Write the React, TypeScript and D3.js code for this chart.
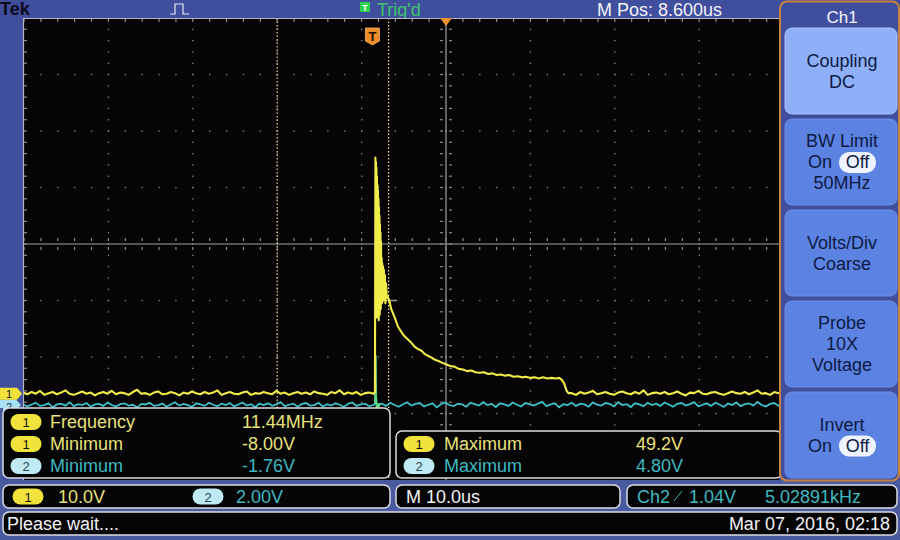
import * as d3 from "d3";

const W = 900;
const H = 540;

// time in us (0 = trigger), volts per channel
const sampleStep = 0.5;
const ch1PreStart = -41.5;
const ch1PreNoise = [
  0.2, -0.1, 0.3, 0, 0.5, -0.2, 0.1, 0.3, -0.1, 0.2, 0.6, 0,
  -0.2, 0.1, 0.4, 0, 0.2, -0.3, 0.1, 0.3, 0, 0.5, -0.1, 0.2,
  0.1, -0.2, 0.3, 0.7, 0, 0.1, -0.2, 0.2, 0.4, -0.1, 0, 0.3,
  0.1, -0.3, 0.2, 0, 0.4, 0.1, -0.1, 0.3, 0, 0.2, 0.6, -0.2,
  0.1, 0.3, 0, -0.1, 0.2, 0.4, -0.2, 0.1, 0, 0.3, 0.1, -0.1,
  0.5, 0, 0.2, -0.2, 0.1, 0.3, 0, 0.2, -0.1, 0.4, 0.1, 0,
  -0.2, 0.3, 0.1, 0.6, -0.1, 0.2, 0, 0.3, -0.2, 0.1, 0.2, 0,
];
const ch1Burst: [number, number][] = [
  [0.18, 0.3], [0.24, 41.8], [0.27, 24], [0.3, 41], [0.33, 18], [0.36, 40],
  [0.39, 13.5], [0.42, 38.5], [0.45, 20], [0.48, 37], [0.51, 14], [0.54, 36],
  [0.57, 22], [0.6, 34.5], [0.63, 13], [0.66, 33], [0.69, 19], [0.72, 31.5],
  [0.75, 14], [0.78, 30], [0.81, 21], [0.84, 28.5], [0.87, 15], [0.9, 27],
  [0.94, 19], [0.98, 24], [1.02, 16], [1.06, 23], [1.1, 18], [1.14, 22.5],
  [1.19, 16.5], [1.24, 22], [1.3, 17], [1.36, 21], [1.42, 16], [1.5, 19.5], [1.58, 17],
];
const ch1Decay: [number, number][] = [
  [1.7, 17.2], [1.9, 16.4], [2.1, 15.0], [2.3, 14.3], [2.6, 13.2], [2.9, 11.9],
  [3.2, 11.2], [3.5, 10.5], [3.8, 10.0], [4.1, 9.6], [4.5, 9.0], [4.9, 8.3],
  [5.3, 7.9], [5.7, 7.6], [6.1, 7.0], [6.5, 6.7], [6.9, 6.4], [7.3, 6.0],
  [7.7, 5.8], [8.1, 5.5], [8.6, 5.2], [9.1, 4.9], [9.6, 4.8], [10.1, 4.4],
  [10.6, 4.3], [11.1, 4.0], [11.6, 4.1], [12.1, 3.8], [12.6, 3.7], [13.1, 3.8],
  [13.6, 3.5], [14.1, 3.6], [14.6, 3.3], [15.1, 3.4], [15.6, 3.2], [16.1, 3.3],
  [16.6, 3.0], [17.1, 3.1], [17.6, 2.9], [18.1, 3.0], [18.6, 2.8], [19.1, 2.9],
  [19.6, 2.7], [20.1, 2.9], [20.6, 2.7], [21.1, 2.8], [21.6, 2.7], [22.0, 2.8],
  [22.3, 2.5], [22.6, 1.8], [22.9, 0.5], [23.1, 0.1],
];
const ch1PostStart = 23.5;
const ch1PostNoise = [
  0.1, -0.2, 0.3, 0, 0.2, 0.5, -0.1, 0.1, 0.3, 0, -0.2, 0.2,
  0.4, 0.1, -0.1, 0.3, 0, 0.6, -0.2, 0.1, 0.2, 0, 0.3, -0.1,
  0.1, 0.4, 0, -0.3, 0.2, 0.1, 0.5, 0, -0.1, 0.2, 0.3, 0,
  -0.2, 0.1, 0.4, 0.1, 0, 0.3, -0.1, 0.2, 0.6, 0, 0.1, -0.2,
  0.3, 0.1, 0, 0.2, -0.1, 0.4, 0.1, 0, 0.3, -0.2, 0.2, 0.5,
  0, 0.1, -0.1, 0.3, 0.2, 0, -0.2, 0.4, 0.1, 0.2, 0,
];

const ch2PreStart = -41.5;
const ch2PreNoise = [
  0.03, -0.05, 0.02, 0.08, -0.03, 0, 0.06, -0.08, 0.02, 0.05, -0.02, 0.1,
  -0.04, 0.03, 0, 0.07, -0.06, 0.02, 0.04, -0.03, 0.09, 0, -0.05, 0.03,
  0.06, -0.02, 0.01, -0.09, 0.04, 0.02, 0.08, -0.03, 0, 0.05, -0.06, 0.03,
  0.1, -0.02, 0.04, 0, -0.07, 0.06, 0.02, -0.03, 0.08, 0.01, -0.04, 0.05,
  0, 0.07, -0.05, 0.02, 0.09, -0.02, 0.03, -0.08, 0.05, 0, 0.06, -0.03,
  0.02, 0.1, -0.04, 0.01, 0.05, -0.06, 0.03, 0.07, -0.02, 0, 0.08, -0.05,
  0.03, -0.02, 0.06, 0.01, -0.07, 0.04, 0.09, -0.03, 0.02, 0.05, -0.04, 0,
];
const ch2Spike: [number, number][] = [
  [0.2, 0.05], [0.25, 1.77], [0.32, 0.3], [0.4, -0.12], [0.5, 0.06], [0.6, -0.08], [0.75, 0.04],
];
const ch2PostStart = 1.0;
const ch2PostNoise = [
  0.05, -0.03, 0.08, 0, -0.06, 0.03, 0.1, -0.02, 0.04, 0.07, -0.05, 0.01,
  0.06, -0.08, 0.03, 0.09, 0, -0.04, 0.05, 0.02, -0.06, 0.08, 0.03, -0.02,
  0.1, 0, 0.04, -0.07, 0.06, 0.02, -0.03, 0.09, 0.01, -0.05, 0.07, 0.03,
  -0.02, 0.05, 0.11, -0.04, 0.02, 0.06, -0.08, 0.03, 0, 0.08, -0.03, 0.05,
  0.02, -0.06, 0.09, 0.01, -0.02, 0.07, 0.04, -0.05, 0.1, 0, 0.03, -0.07,
  0.06, 0.02, -0.04, 0.08, 0, 0.05, -0.03, 0.09, 0.02, -0.06, 0.04, 0.07,
  -0.02, 0.03, 0.1, -0.05, 0.01, 0.06, -0.03, 0.08, 0.02, -0.07, 0.05, 0,
  0.09, -0.04, 0.03, 0.06, -0.02, 0.11, 0, -0.05, 0.04, 0.07, -0.03, 0.02,
  0.08, -0.06, 0.03, 0.05, -0.01, 0.09, 0.02, -0.04, 0.06, 0.01, -0.05, 0.08,
  0.03, -0.02, 0.07, 0, -0.06, 0.04, 0.09, -0.03,
];

const cursorTimes = [-11.4, 1.8];

const measLeft = [
  { ch: 1, label: "Frequency", value: "11.44MHz" },
  { ch: 1, label: "Minimum", value: "-8.00V" },
  { ch: 2, label: "Minimum", value: "-1.76V" },
];
const measRight = [
  { ch: 1, label: "Maximum", value: "49.2V" },
  { ch: 2, label: "Maximum", value: "4.80V" },
];

const menuTitle = "Ch1";
const menuButtons = [
  ["Coupling", "DC"],
  ["BW Limit", "On|Off", "50MHz"],
  ["Volts/Div", "Coarse"],
  ["Probe", "10X", "Voltage"],
  ["Invert", "On|Off"],
];

const FONT = "'Liberation Sans', Arial, sans-serif";
const BLUE = "#3f4f9e";
const YELLOW = "#f0ec48";
const CYAN = "#3cc2c8";
const TXT_Y = "#e8e27a";
const TXT_C = "#3fb8c0";
const GRID = "#8c8c8c";

function Pill({ cx, cy, ch }: { cx: number; cy: number; ch: number }) {
  const w = 31;
  const h = 16;
  return (
    <g>
      <rect x={cx - w / 2} y={cy - h / 2} width={w} height={h} rx={h / 2}
        fill={ch === 1 ? "#f2e23c" : "#bfeaf4"} />
      <text x={cx} y={cy + 5} textAnchor="middle" fontSize={13} fontFamily={FONT}
        fill={ch === 1 ? "#111" : "#24404c"}>{ch}</text>
    </g>
  );
}

function Box({ x0, y0, x1, y1 }: { x0: number; y0: number; x1: number; y1: number }) {
  return (
    <rect x={x0} y={y0} width={x1 - x0} height={y1 - y0} rx={6}
      fill="#050505" stroke="#dcdce4" strokeWidth={1.5} />
  );
}

export default function App() {
  const x = d3.scaleLinear().domain([-41.4, 58.6]).range([24, 868]);
  const y1 = d3.scaleLinear().domain([-13.5, 66.5]).range([470, 18]);
  const y2 = d3.scaleLinear().domain([-2.3, 13.7]).range([470, 18]);
  const gx = d3.scaleLinear().domain([0, 10]).range([24, 868]);
  const gy = d3.scaleLinear().domain([0, 8]).range([18, 470]);

  const ch1: [number, number][] = [
    ...ch1PreNoise.map((v, i) => [ch1PreStart + i * sampleStep, v] as [number, number]),
    ...ch1Burst,
    ...ch1Decay,
    ...ch1PostNoise.map((v, i) => [ch1PostStart + i * sampleStep, v] as [number, number]),
  ];
  const ch2: [number, number][] = [
    ...ch2PreNoise.map((v, i) => [ch2PreStart + i * sampleStep, v] as [number, number]),
    ...ch2Spike,
    ...ch2PostNoise.map((v, i) => [ch2PostStart + i * sampleStep, v] as [number, number]),
  ];
  const line1 = d3.line<[number, number]>().x((d) => x(d[0])).y((d) => y1(d[1]));
  const line2 = d3.line<[number, number]>().x((d) => x(d[0])).y((d) => y2(d[1]));

  const minorX = d3.range(0, 51).map((i) => gx(i / 5));
  const minorY = d3.range(0, 41).map((j) => gy(j / 5));
  const cx = gx(5);
  const cy = gy(4);

  return (
    <svg width={W} height={H} viewBox={`0 0 ${W} ${H}`}
      style={{ position: "fixed", left: 0, top: 0, display: "block" }}>
      <defs>
        <clipPath id="screen">
          <rect x={23} y={18} width={756} height={462} />
        </clipPath>
      </defs>
      <rect width={W} height={H} fill={BLUE} />

      {/* top status bar */}
      <text x={0} y={15} fontSize={18} fontWeight="bold" fontFamily={FONT} fill="#0b0b1a">Tek</text>
      <path d="M170,14 H175 V4 H183 V14 H189" fill="none" stroke="#e8e8f0" strokeWidth={1.2} />
      <rect x={360} y={2} width={10} height={10} fill="#2fd04e" />
      <text x={365} y={10.5} textAnchor="middle" fontSize={9} fontWeight="bold" fontFamily={FONT} fill="#fff">T</text>
      <text x={377} y={16} fontSize={18} fontFamily={FONT} fill="#3ec46c">Trig'd</text>
      <text x={597} y={16} fontSize={18} fontFamily={FONT} fill="#f2f2f6">M Pos: 8.600us</text>

      {/* screen */}
      <rect x={23} y={18} width={756} height={462} fill="#060404" />
      <g clipPath="url(#screen)">
        {[1, 2, 3, 4, 6, 7, 8, 9].map((i) =>
          minorY.map((py, j) => (
            <rect key={`v${i}-${j}`} x={gx(i) - 0.6} y={py - 0.6} width={1.3} height={1.3} fill={GRID} />
          )),
        )}
        {[1, 2, 3, 5, 6, 7].map((k) =>
          minorX.map((px, i) => (
            <rect key={`h${k}-${i}`} x={px - 0.6} y={gy(k) - 0.6} width={1.3} height={1.3} fill={GRID} />
          )),
        )}
        <line x1={cx} x2={cx} y1={18} y2={480} stroke="#a4a4a4" strokeWidth={1.2} />
        <line x1={23} x2={779} y1={cy} y2={cy} stroke="#a4a4a4" strokeWidth={1.2} />
        {minorY.map((py, j) => (
          <g key={`cy${j}`} stroke={GRID} strokeWidth={1.2}>
            <line x1={cx - 6} x2={cx - 3} y1={py} y2={py} />
            <line x1={cx + 3} x2={cx + 6} y1={py} y2={py} />
          </g>
        ))}
        {minorX.map((px, i) => (
          <g key={`cx${i}`} stroke={GRID} strokeWidth={1.2}>
            <line x1={px} x2={px} y1={cy - 6} y2={cy - 3} />
            <line x1={px} x2={px} y1={cy + 3} y2={cy + 6} />
            <line x1={px} x2={px} y1={18} y2={22} />
          </g>
        ))}
        {minorY.map((py, j) => (
          <line key={`l${j}`} x1={23} x2={27} y1={py} y2={py} stroke={GRID} strokeWidth={1.2} />
        ))}
        {cursorTimes.map((t) => (
          <line key={`cur${t}`} x1={x(t)} x2={x(t)} y1={18} y2={480}
            stroke="#e6dfa0" strokeWidth={1.2} strokeDasharray="1.5,2" />
        ))}
        <line x1={380} x2={397} y1={gy(5)} y2={gy(5)} stroke="#9a9a9a" strokeWidth={1.5} />

        <path d={line2(ch2) || ""} fill="none" stroke={CYAN} strokeWidth={1.8} />
        <path d={line2(ch2Spike) || ""} fill="none" stroke="#5fd47e" strokeWidth={1.8} />
        <path d={line1(ch1) || ""} fill="none" stroke={YELLOW} strokeWidth={2.1} strokeLinejoin="round" />
      </g>
      <line x1={23} x2={779} y1={18.5} y2={18.5} stroke="#b4b4c4" strokeWidth={1.2} />
      <line x1={23.5} x2={23.5} y1={18} y2={480} stroke="#b4b4c4" strokeWidth={1.2} />

      {/* trigger markers */}
      <path d={`M${cx - 6},18 H${cx + 6} L${cx},26 Z`} fill="#f0922c" />
      <g transform={`translate(${x(0) - 1},0)`}>
        <path d="M-7,28 H7 V41 L0,45 L-7,41 Z" fill="#ee8c2a" stroke="#ffb466" strokeWidth={0.8} />
        <text x={0} y={41} textAnchor="middle" fontSize={13} fontWeight="bold" fontFamily={FONT} fill="#1a0c00">T</text>
      </g>

      {/* channel ground markers */}
      <g transform={`translate(0,${y2(0)})`}>
        <path d="M0,-5.5 H16 L21,0 L16,5.5 H0 Z" fill="#a8e2f2" />
        <text x={9} y={5.5} textAnchor="middle" fontSize={11} fontFamily={FONT} fill="#1d3a48">2</text>
      </g>
      <g transform={`translate(0,${y1(0)})`}>
        <path d="M0,-6 H17 L22,0 L17,6 H0 Z" fill="#f2e23c" />
        <text x={9} y={4} textAnchor="middle" fontSize={11} fontFamily={FONT} fill="#111">1</text>
      </g>

      {/* measurement panels */}
      <rect x={0} y={480} width={W} height={60} fill="#4a5a9e" />
      <rect x={0} y={408} width={3} height={72} fill="#4a5a9e" />
      <Box x0={3} y0={408} x1={390} y1={478} />
      {measLeft.map((m, i) => (
        <g key={`ml${i}`}>
          <Pill cx={26} cy={422 + i * 22} ch={m.ch} />
          <text x={50} y={428 + i * 22} fontSize={18} fontFamily={FONT} fill={m.ch === 1 ? TXT_Y : TXT_C}>{m.label}</text>
          <text x={242} y={428 + i * 22} fontSize={18} fontFamily={FONT} fill={m.ch === 1 ? TXT_Y : TXT_C}>{m.value}</text>
        </g>
      ))}
      <Box x0={396} y0={431} x1={782} y1={478} />
      {measRight.map((m, i) => (
        <g key={`mr${i}`}>
          <Pill cx={419} cy={444 + i * 22} ch={m.ch} />
          <text x={444} y={450 + i * 22} fontSize={18} fontFamily={FONT} fill={m.ch === 1 ? TXT_Y : TXT_C}>{m.label}</text>
          <text x={636} y={450 + i * 22} fontSize={18} fontFamily={FONT} fill={m.ch === 1 ? TXT_Y : TXT_C}>{m.value}</text>
        </g>
      ))}

      <Box x0={3} y0={485} x1={390} y1={508} />
      <Pill cx={28} cy={496.5} ch={1} />
      <text x={58} y={503} fontSize={18} fontFamily={FONT} fill={TXT_Y}>10.0V</text>
      <Pill cx={208} cy={496.5} ch={2} />
      <text x={236} y={503} fontSize={18} fontFamily={FONT} fill={TXT_C}>2.00V</text>
      <Box x0={396} y0={485} x1={620} y1={508} />
      <text x={406} y={503} fontSize={18} fontFamily={FONT} fill="#f2f2f6">M 10.0us</text>
      <Box x0={627} y0={485} x1={897} y1={508} />
      <text x={637} y={503} fontSize={18} fontFamily={FONT} fill={TXT_C}>Ch2</text>
      <path d="M674,501 L682,491" stroke={TXT_C} strokeWidth={1} fill="none" />
      <text x={689} y={503} fontSize={18} fontFamily={FONT} fill={TXT_C}>1.04V</text>
      <text x={765} y={503} fontSize={18} fontFamily={FONT} fill={TXT_C}>5.02891kHz</text>

      <Box x0={3} y0={512} x1={897} y1={535} />
      <text x={7} y={530} fontSize={18} fontFamily={FONT} fill="#f2f2f6">Please wait....</text>
      <text x={890} y={530} textAnchor="end" fontSize={18} fontFamily={FONT} fill="#f2f2f6">Mar 07, 2016, 02:18</text>

      {/* side menu */}
      <rect x={780} y={1.5} width={119} height={479} rx={7} fill={BLUE} stroke="#c8823e" strokeWidth={2} />
      <text x={842} y={23} textAnchor="middle" fontSize={17} fontFamily={FONT} fill="#f4f4fa">{menuTitle}</text>
      {menuButtons.map((lines, b) => {
        const top = 28 + b * 91;
        const h = 86;
        const lh = 21;
        const mid = top + h / 2;
        const first = mid - ((lines.length - 1) * lh) / 2;
        return (
          <g key={`btn${b}`}>
            <rect x={785} y={top} width={112} height={h} rx={7}
              fill={b === 0 ? "#8fb0f8" : "#5c82e2"} stroke={b === 0 ? "#a8c2fb" : "#6d90ea"} strokeWidth={1} />
            {lines.map((ln, li) => {
              const ty = first + li * lh + 6;
              if (ln === "On|Off") {
                return (
                  <g key={li}>
                    <text x={820} y={ty} textAnchor="middle" fontSize={18} fontFamily={FONT} fill="#0e1a44">On</text>
                    <rect x={839} y={ty - 16} width={37} height={21} rx={10} fill="#eef3ff" />
                    <text x={857.5} y={ty} textAnchor="middle" fontSize={18} fontFamily={FONT} fill="#0e1a44">Off</text>
                  </g>
                );
              }
              return (
                <text key={li} x={842} y={ty} textAnchor="middle" fontSize={18} fontFamily={FONT} fill="#0e1a44">{ln}</text>
              );
            })}
          </g>
        );
      })}
    </svg>
  );
}
